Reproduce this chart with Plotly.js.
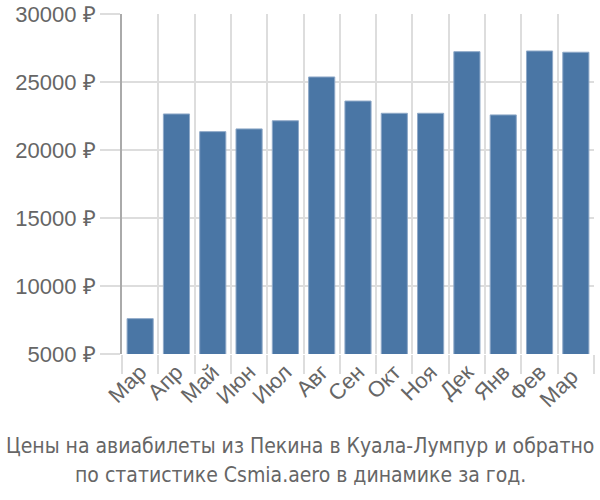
<!DOCTYPE html>
<html>
<head>
<meta charset="utf-8">
<script src="https://cdn.plot.ly/plotly-3.0.1.min.js"></script>
<style>html,body{margin:0;padding:0;background:#fff;}#chart{width:600px;height:500px;}</style>
</head>
<body>
<div id="chart"></div>
<script>
const months = ["Мар","Апр","Май","Июн","Июл","Авг","Сен","Окт","Ноя","Дек","Янв","Фев","Мар "];
const prices = [7600, 22650, 21350, 21550, 22150, 25370, 23600, 22700, 22700, 27230, 22580, 27280, 27190];
const yTicks = [5000, 10000, 15000, 20000, 25000, 30000];
const titleLines = ["Цены на авиабилеты из Пекина в Куала-Лумпур и обратно", "по статистике Csmia.aero в динамике за год."];

const trace = {
  type: "bar",
  x: months,
  y: prices,
  marker: {color: "#4a76a5", line: {color: "#8fa9c8", width: 1}},
  hoverinfo: "skip"
};

const baseFont = "'Liberation Sans', Arial, sans-serif";
const titleFont = {family: "'Liberation Sans Narrow', 'DejaVu Sans Condensed', sans-serif", size: 21, color: "#666"};
const titleY = [-0.271, -0.356];

const layout = {
  width: 600, height: 500,
  margin: {l: 122, r: 6, t: 14, b: 146},
  paper_bgcolor: "#fff", plot_bgcolor: "#fff",
  bargap: 0.28,
  showlegend: false,
  font: {family: baseFont, color: "#666"},
  xaxis: {
    type: "category",
    tickson: "boundaries",
    ticks: "outside", ticklen: 19, tickcolor: "#ddd", tickwidth: 2,
    showgrid: true, gridcolor: "#ddd", gridwidth: 2,
    showline: false, zeroline: false,
    tickangle: -45,
    tickfont: {family: baseFont, size: 22, color: "#666"}
  },
  yaxis: {
    range: [5000, 30000],
    tickmode: "array",
    tickvals: yTicks,
    ticktext: yTicks.map(v => v + " ₽"),
    ticks: "outside", ticklen: 20, tickcolor: "#ddd", tickwidth: 2,
    showgrid: true, gridcolor: "#ddd", gridwidth: 2,
    showline: true, linecolor: "#aaa", linewidth: 2,
    zeroline: false,
    tickfont: {family: baseFont, size: 22, color: "#666"}
  },
  annotations: titleLines.map((t, i) => ({
    xref: "paper", yref: "paper",
    x: (300 - 122) / 472, y: titleY[i],
    xanchor: "center", yanchor: "middle",
    showarrow: false,
    text: t,
    font: titleFont
  }))
};

Plotly.newPlot("chart", [trace], layout, {staticPlot: true, displayModeBar: false});
</script>
</body>
</html>
